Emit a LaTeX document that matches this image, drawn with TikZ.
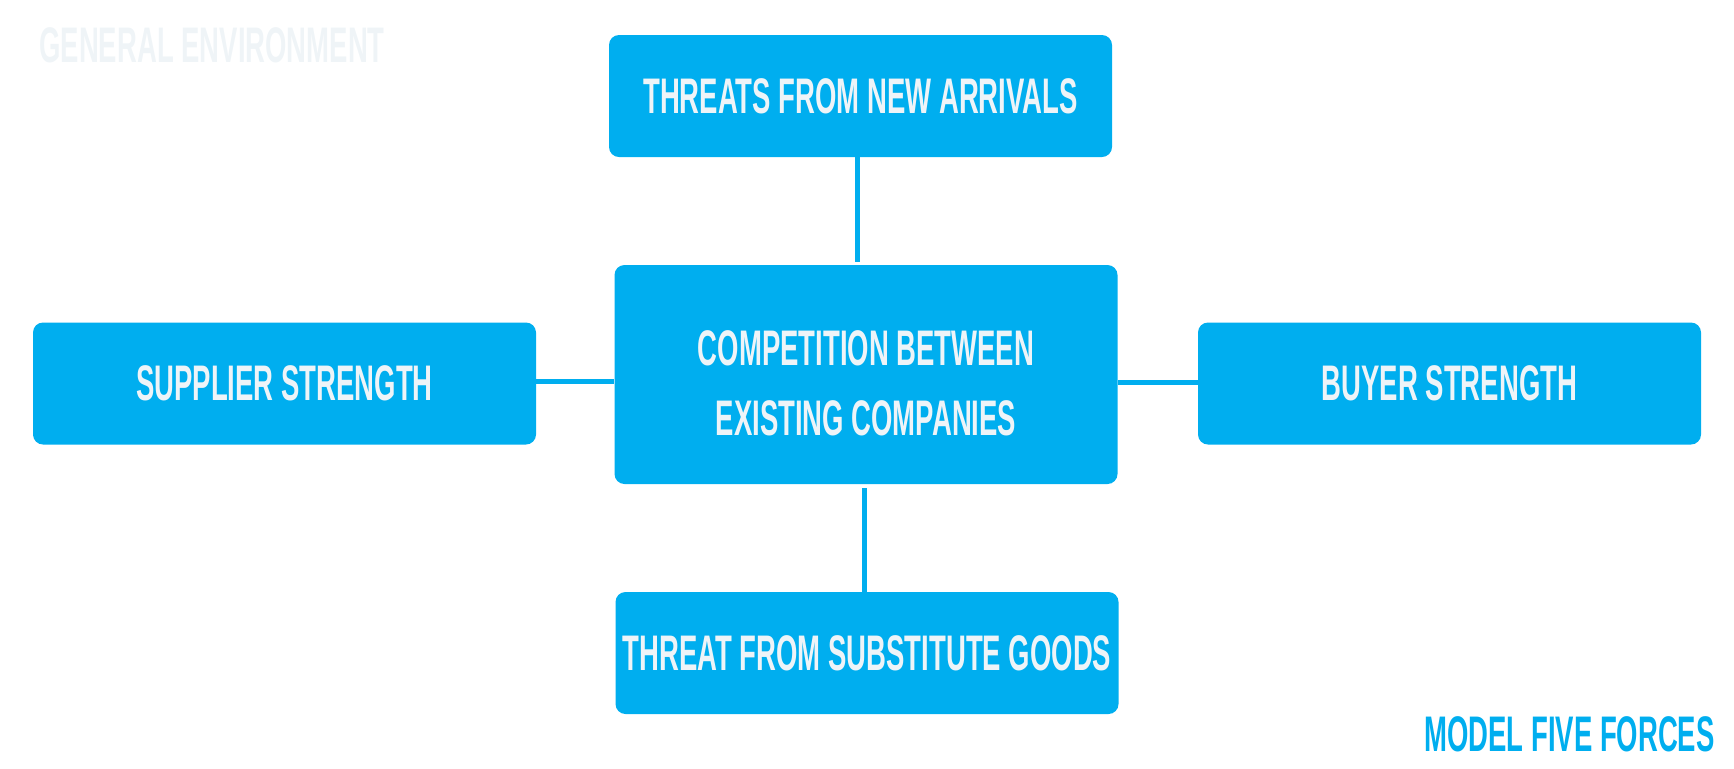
\documentclass[tikz,border=0pt]{standalone}
\usepackage{fontspec}
\setmainfont{Liberation Sans}[FakeStretch=0.55]
\definecolor{forceblue}{RGB}{0,174,239}
\definecolor{forcetext}{RGB}{238,244,248}
\definecolor{faintgrey}{RGB}{239,244,247}
\usetikzlibrary{positioning,calc}

\begin{document}
\begin{tikzpicture}[x=0.5pt, y=-0.5pt,
    forcebox/.style={draw=none, fill=forceblue, rounded corners=5pt, text=forcetext,
        minimum width=251.5pt, minimum height=61pt, align=center,
        font=\bfseries\fontsize{25}{34}\selectfont},
    link/.style={draw=forceblue, line width=2.5pt}]
    \useasboundingbox (0,0) rectangle (1734,768);

    \node[forcebox] (new) at (860.5,96) {THREATS FROM NEW ARRIVALS};
    \node[forcebox, minimum height=109.5pt, font=\bfseries\fontsize{25}{35}\selectfont] (rivalry) at (866,374.5)
        {\raisebox{-12pt}[0pt][0pt]{\begin{tabular}{@{}c@{}}COMPETITION BETWEEN\\EXISTING COMPANIES\end{tabular}}};
    \node[forcebox] (supplier) at (284.5,383.5) {SUPPLIER STRENGTH};
    \node[forcebox] (buyer) at (1449.5,383.5) {BUYER STRENGTH};
    \node[forcebox] (subst) at (867,653) {THREAT FROM SUBSTITUTE GOODS};

    \node[anchor=base west, inner sep=0pt, text=faintgrey, font=\bfseries\fontsize{25}{30}\selectfont] (env) at (39,62) {GENERAL ENVIRONMENT};
    \node[anchor=base east, inner sep=0pt, text=forceblue, font=\bfseries\fontsize{25}{30}\selectfont] (model) at (1715,751) {MODEL FIVE FORCES};

    \draw[link, shorten >=1.5pt] ([xshift=-1.75pt]new.south) -- ([xshift=-1.75pt]new.south |- rivalry.north);
    \draw[link, shorten >=2pt] ([xshift=-1.5pt]subst.north) -- ([xshift=-1.5pt]subst.north |- rivalry.south);
    \draw[link] ([yshift=1pt]supplier.east) -- ([yshift=1pt]supplier.east -| rivalry.west);
    \draw[link] ([yshift=0.5pt]buyer.west) -- ([yshift=0.5pt]buyer.west -| rivalry.east);
\end{tikzpicture}
\end{document}
